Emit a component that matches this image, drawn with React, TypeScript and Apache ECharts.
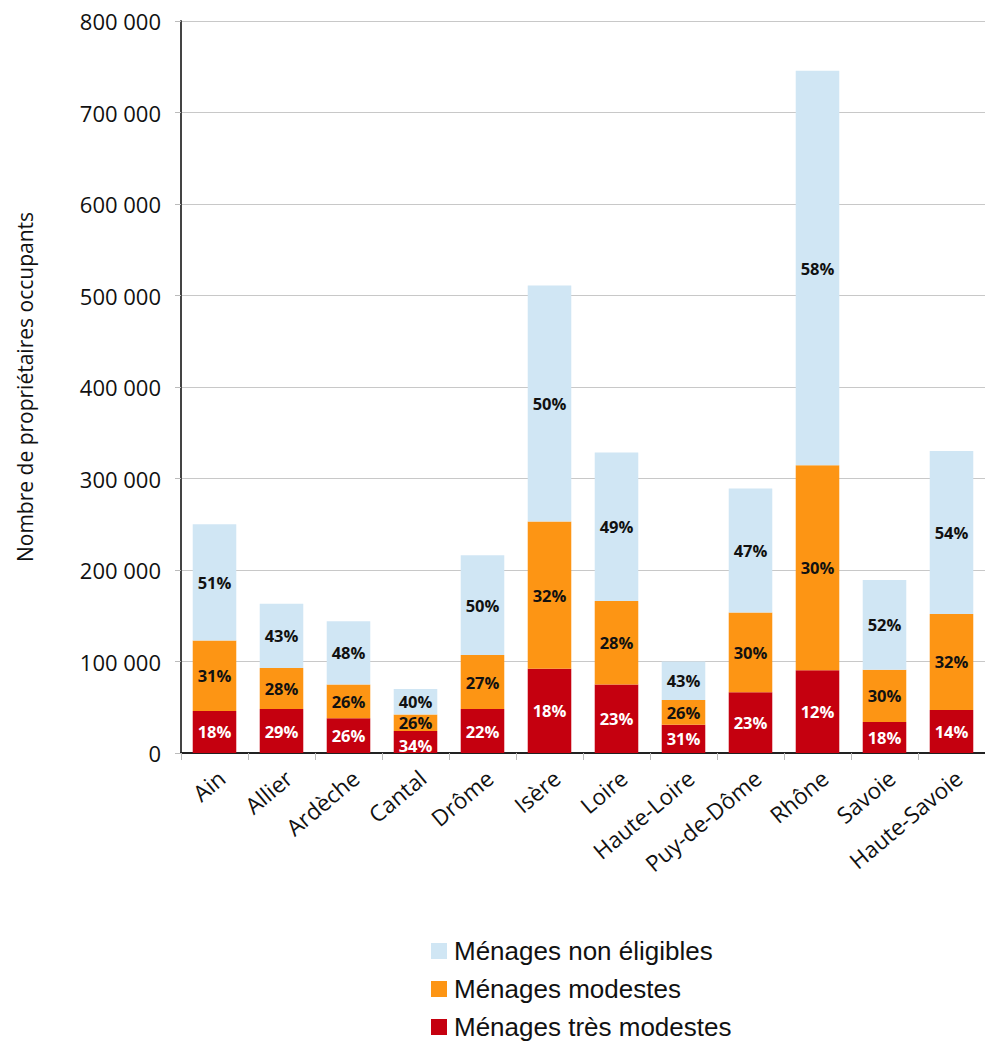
import React, { useEffect, useRef } from "react";
import * as echarts from "echarts";

const categories = ["Ain", "Allier", "Ardèche", "Cantal", "Drôme", "Isère", "Loire", "Haute-Loire", "Puy-de-Dôme", "Rhône", "Savoie", "Haute-Savoie"];
const tresModestes = [46000, 48000, 38000, 24000, 48000, 92000, 75000, 31000, 66500, 90500, 34000, 47000];
const modestes = [77000, 45000, 37000, 18000, 59000, 161000, 91000, 27000, 87000, 224000, 57000, 105000];
const nonEligibles = [127000, 70000, 69000, 28000, 109000, 258000, 162500, 42000, 135500, 431000, 98000, 178000];
const pctTres = [18, 29, 26, 34, 22, 18, 23, 31, 23, 12, 18, 14];
const pctMod = [31, 28, 26, 26, 27, 32, 28, 26, 30, 30, 30, 32];
const pctNon = [51, 43, 48, 40, 50, 50, 49, 43, 47, 58, 52, 54];

const names = ["Ménages non éligibles", "Ménages modestes", "Ménages très modestes"];
const fmt = (v: number) => String(v).replace(/\B(?=(\d{3})+(?!\d))/g, " ");

export default function App() {
  const ref = useRef<HTMLDivElement>(null);
  useEffect(() => {
    document.body.style.margin = "0";
    const chart = echarts.init(ref.current!, null, { renderer: "svg" });
    const font = "'Open Sans', 'Noto Sans', sans-serif";
    const mkLabel = (pcts: number[], color: string) => ({
      show: true,
      position: "inside",
      color,
      fontFamily: font,
      fontWeight: "bold",
      fontSize: 16.5,
      lineHeight: 15,
      formatter: (p: any) => pcts[p.dataIndex] + "%",
    });
    // small segment (Cantal): nudge the bottom label down so texts do not collide
    const withNudge = (arr: number[], dy: number) =>
      arr.map((v, i) => (i === 3 ? { value: v, label: { offset: [0, dy] } } : v));
    chart.setOption({
      animation: false,
      backgroundColor: "#fff",
      grid: { left: 181, top: 21, width: 809, height: 732, containLabel: false },
      legend: {
        orient: "vertical",
        left: 431,
        top: 938,
        height: 110,
        padding: 0,
        itemWidth: 16,
        itemHeight: 16,
        itemGap: 12,
        icon: "rect",
        data: names,
        textStyle: { fontSize: 26, fontFamily: "'Liberation Sans', Arial, sans-serif", color: "#111", padding: [0, 0, 0, 2] },
      },
      xAxis: {
        type: "category",
        data: categories,
        axisLine: { lineStyle: { color: "#222", width: 2 } },
        axisTick: { show: true, length: 7, lineStyle: { color: "#bbb" } },
        axisLabel: { rotate: 40, fontSize: 22.5, fontFamily: font, color: "#111", margin: 13, interval: 0, verticalAlign: "top" },
      },
      yAxis: {
        type: "value",
        min: 0,
        max: 800000,
        interval: 100000,
        name: "Nombre de propriétaires occupants",
        nameLocation: "middle",
        nameGap: 146,
        nameTextStyle: { fontSize: 21, fontFamily: font, color: "#111" },
        axisLine: { show: true, lineStyle: { color: "#444", width: 2 } },
        axisTick: { show: true, length: 6, lineStyle: { color: "#bbb" } },
        splitLine: { lineStyle: { color: "#c8c8c8", width: 1 } },
        axisLabel: { fontSize: 22, fontFamily: font, color: "#111", margin: 20, formatter: fmt },
      },
      series: [
        {
          name: names[2], type: "bar", stack: "t", data: withNudge(tresModestes, 3), barWidth: "65%",
          itemStyle: { color: "#c5000f" }, label: mkLabel(pctTres, "#fff"),
        },
        {
          name: names[1], type: "bar", stack: "t", data: modestes, barWidth: "65%",
          itemStyle: { color: "#fd9514" }, label: mkLabel(pctMod, "#111"),
        },
        {
          name: names[0], type: "bar", stack: "t", data: nonEligibles, barWidth: "65%",
          itemStyle: { color: "#d0e6f4" }, label: mkLabel(pctNon, "#111"),
        },
      ],
    });
    return () => chart.dispose();
  }, []);
  return <div ref={ref} style={{ width: 985, height: 1044 }} />;
}
